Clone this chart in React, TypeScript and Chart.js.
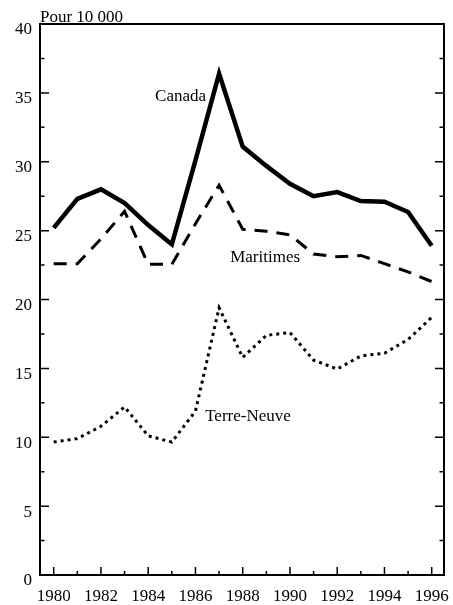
import React, { useEffect, useRef } from "react";
import { Chart, registerables } from "chart.js";

Chart.register(...registerables);

const years = [1980, 1981, 1982, 1983, 1984, 1985, 1986, 1987, 1988, 1989, 1990, 1991, 1992, 1993, 1994, 1995, 1996];
const canada = [25.2, 27.3, 28.0, 27.0, 25.4, 24.0, 30.1, 36.4, 31.1, 29.7, 28.4, 27.5, 27.8, 27.15, 27.1, 26.35, 23.9];
const maritimes = [22.6, 22.6, 24.4, 26.4, 22.55, 22.55, 25.5, 28.3, 25.1, 24.95, 24.7, 23.3, 23.1, 23.2, 22.6, 22.0, 21.3];
const terreNeuve = [9.65, 9.9, 10.8, 12.2, 10.1, 9.65, 11.9, 19.4, 15.8, 17.4, 17.6, 15.6, 14.95, 15.9, 16.1, 17.1, 18.7];
const yTicks = [0, 5, 10, 15, 20, 25, 30, 35, 40];
const unitLabel = "Pour 10 000";
const seriesLabels = [
  { text: "Canada", x: 1986.45, y: 34.7, align: "right" },
  { text: "Maritimes", x: 1987.47, y: 23.05, align: "left" },
  { text: "Terre-Neuve", x: 1986.41, y: 11.5, align: "left" },
];

const FAMILY = '"Liberation Serif", "Times New Roman", serif';
const FONT = "17px " + FAMILY;

const framePlugin = {
  id: "framePlugin",
  afterDraw(chart: any) {
    const { ctx, chartArea } = chart;
    const xs = chart.scales.x;
    const ys = chart.scales.y;
    ctx.save();
    ctx.strokeStyle = "#000";
    ctx.lineWidth = 2;
    ctx.strokeRect(chartArea.left, chartArea.top, chartArea.right - chartArea.left, chartArea.bottom - chartArea.top);
    ctx.lineWidth = 1.5;
    ctx.beginPath();
    for (let v = 0; v <= 40; v += 2.5) {
      const y = ys.getPixelForValue(v);
      const len = v % 5 === 0 ? 9 : 4.5;
      ctx.moveTo(chartArea.left, y);
      ctx.lineTo(chartArea.left + len, y);
      ctx.moveTo(chartArea.right, y);
      ctx.lineTo(chartArea.right - len, y);
    }
    for (const yr of years) {
      const x = xs.getPixelForValue(yr);
      const len = yr % 2 === 0 ? 8 : 4;
      ctx.moveTo(x, chartArea.bottom);
      ctx.lineTo(x, chartArea.bottom - len);
    }
    ctx.stroke();
    ctx.fillStyle = "#000";
    ctx.font = FONT;
    ctx.textBaseline = "middle";
    for (const l of seriesLabels) {
      ctx.textAlign = l.align as CanvasTextAlign;
      ctx.fillText(l.text, xs.getPixelForValue(l.x), ys.getPixelForValue(l.y));
    }
    ctx.textAlign = "left";
    ctx.textBaseline = "alphabetic";
    ctx.fillText(unitLabel, chartArea.left, chartArea.top - 2);
    ctx.restore();
  },
};

export default function App() {
  const ref = useRef<HTMLCanvasElement>(null);
  useEffect(() => {
    if (!ref.current) return;
    const mk = (vals: number[]) => years.map((x, i) => ({ x, y: vals[i] }));
    const chart = new Chart(ref.current, {
      type: "line",
      data: {
        datasets: [
          { label: "Canada", data: mk(canada), borderColor: "#000", borderWidth: 4.5, pointRadius: 0, fill: false, tension: 0 },
          { label: "Maritimes", data: mk(maritimes), borderColor: "#000", borderWidth: 3, borderDash: [13, 9], pointRadius: 0, fill: false, tension: 0 },
          { label: "Terre-Neuve", data: mk(terreNeuve), borderColor: "#000", borderWidth: 3, borderDash: [3, 4], pointRadius: 0, fill: false, tension: 0 },
        ],
      },
      options: {
        responsive: false,
        animation: false,
        layout: { padding: { top: 24, right: 9, left: 0, bottom: 0 } },
        plugins: { legend: { display: false }, tooltip: { enabled: false } },
        scales: {
          x: {
            type: "linear",
            min: 1979.42,
            max: 1996.52,
            grid: { display: false, drawTicks: false },
            border: { display: false },
            afterFit: (s: any) => { s.height = 30; s.paddingLeft = 0; s.paddingRight = 0; },
            ticks: {
              stepSize: 2,
              includeBounds: false,
              padding: 11,
              color: "#000",
              font: { family: FAMILY, size: 17 },
              maxRotation: 0,
              autoSkip: false,
              callback: (v: any) => String(v),
            },
          },
          y: {
            min: 0,
            max: 40,
            grid: { display: false, drawTicks: false },
            border: { display: false },
            afterFit: (s: any) => { s.width = 40; s.paddingTop = 0; s.paddingBottom = 0; },
            ticks: {
              stepSize: 5,
              padding: 8,
              labelOffset: 6,
              color: "#000",
              font: { family: FAMILY, size: 17 },
              callback: (v: any) => (yTicks.includes(v) ? String(v) : ""),
            },
          },
        },
      },
      plugins: [framePlugin],
    });
    return () => chart.destroy();
  }, []);
  return (
    <div style={{ position: "absolute", left: 0, top: 0, width: 453, height: 605, background: "#fff" }}>
      <canvas ref={ref} width={453} height={605} />
    </div>
  );
}
